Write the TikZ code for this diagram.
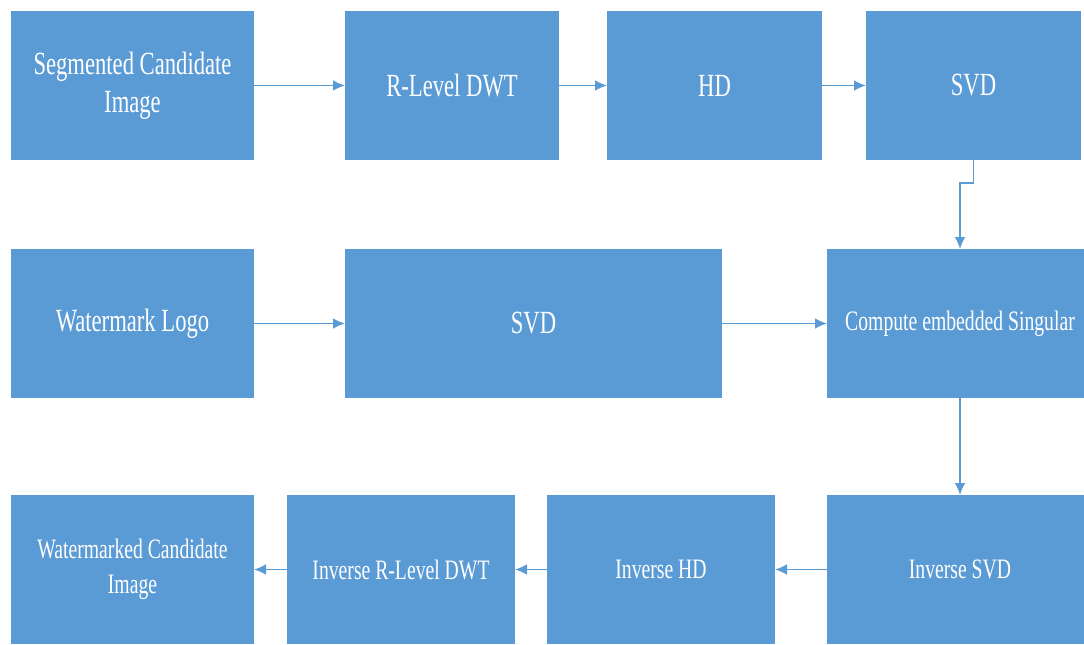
\documentclass[tikz,border=0pt]{standalone}
\usepackage{fontspec}
\setmainfont[FakeStretch=0.7]{Liberation Serif}
\usetikzlibrary{arrows.meta,calc,positioning}
\definecolor{boxblue}{HTML}{5B9BD5}

\begin{document}
\begin{tikzpicture}[
  box/.style={fill=boxblue, text=white, minimum height=3.725cm, align=center,
    inner sep=2pt, outer sep=0pt, font=\fontsize{23}{27}\selectfont},
  small/.style={font=\fontsize{20}{25}\selectfont},
  link/.style={draw=boxblue, line width=1.2pt, -{Latex[length=3mm,width=2.7mm]}}]

\useasboundingbox (0,0) rectangle (27.1,-16.1);

% Prima riga
\node[box, minimum width=6.075cm, anchor=north west] (segimg) at (0.275,-0.275)
      {Segmented Candidate\\Image};
\node[box, minimum width=5.35cm, right=2.275cm of segimg] (rdwt) {R-Level DWT};
\node[box, minimum width=5.375cm, right=1.2cm of rdwt] (hd) {HD};
\node[box, minimum width=5.375cm, right=1.1cm of hd] (svda) {SVD};

% Seconda riga
\node[box, minimum width=6.075cm, below=2.225cm of segimg] (wmlogo) {Watermark Logo};
\node[box, minimum width=9.425cm, right=2.275cm of wmlogo] (svdb) {SVD};
\node[box, small, minimum width=6.65cm, right=2.625cm of svdb] (comp)
      {Compute embedded Singular};

% Terza riga
\node[box, small, minimum width=6.075cm, below=2.425cm of wmlogo] (wmimg)
      {Watermarked Candidate\\Image};
\node[box, small, minimum width=5.7cm, right=0.825cm of wmimg] (irdwt) {Inverse R-Level DWT};
\node[box, small, minimum width=5.7cm, right=0.8cm of irdwt] (ihd) {Inverse HD};
\node[box, small, minimum width=6.65cm, right=1.3cm of ihd] (isvd) {Inverse SVD};

% Connessioni
\draw[link] (segimg) -- (rdwt);
\draw[link] (rdwt) -- (hd);
\draw[link] (hd) -- (svda);
\coordinate (bend) at ($(svda.south)+(0,-0.575)$);
\draw[link] (svda.south) -- (bend) -| (comp.north);
\draw[link] (wmlogo) -- (svdb);
\draw[link] (svdb) -- (comp);
\draw[link] (comp) -- (isvd);
\draw[link] (isvd) -- (ihd);
\draw[link] (ihd) -- (irdwt);
\draw[link] (irdwt) -- (wmimg);

\end{tikzpicture}
\end{document}
